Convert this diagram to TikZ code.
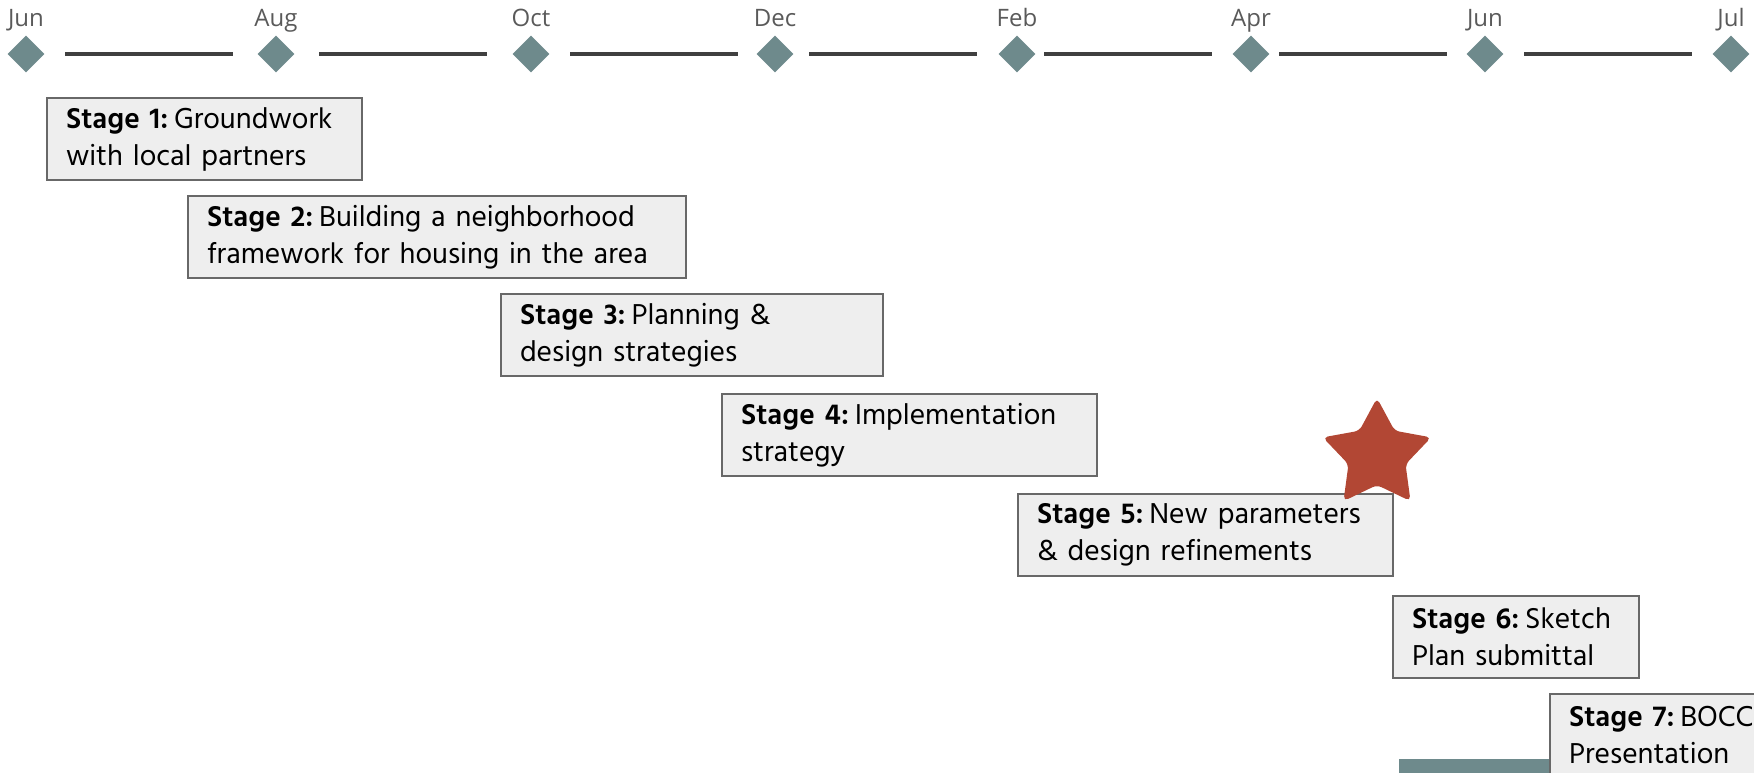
\documentclass[tikz,border=0pt]{standalone}
\usepackage{fontspec}
\usepackage{xcolor}
\usepackage{tikz}
\usetikzlibrary{shapes.geometric}
\setmainfont[WordSpace=0.6]{Hind Siliguri}
\newfontfamily\monthfont{Open Sans}
\definecolor{tealgray}{RGB}{110,138,140}
\definecolor{barline}{RGB}{64,64,64}
\definecolor{boxfill}{RGB}{238,238,238}
\definecolor{boxline}{RGB}{104,104,104}
\definecolor{starred}{RGB}{178,71,52}
\definecolor{monthgray}{RGB}{90,90,90}
\newcommand{\stagetext}[3]{\mbox{\textbf{Stage #1:}\hspace{0.2em}#2}\\\mbox{#3}}
\tikzstyle{month}=[diamond, fill=tealgray, inner sep=0pt, minimum size=37pt]
\tikzstyle{monthlbl}=[font=\monthfont\fontsize{24}{26}\selectfont, text=monthgray,
inner sep=0pt, text height=17pt, text depth=0pt, label distance=9pt]
\tikzstyle{tline}=[draw=barline, line width=3.5pt]
\tikzstyle{stagebox}=[draw=boxline, fill=boxfill, line width=2pt, anchor=north west,
align=left, inner xsep=19pt, inner ysep=0pt, minimum height=82pt,
font=\fontsize{29.5}{37}\selectfont]

\begin{document}
\begin{tikzpicture}[x=1pt,y=-1pt]
\useasboundingbox (0,0) rectangle (1754,773);
\clip (0,0) rectangle (1754,773);
% timeline
\foreach \x in {65,319,570,809,1044,1279,1524}
  \draw[tline] (\x,54) -- ++(168,0);
\foreach \i/\x/\m in {1/26/Jun,2/276/Aug,3/531/Oct,4/775/Dec,5/1017/Feb,6/1251/Apr,7/1485/Jun,8/1731/Jul}
  \node[month, label={[monthlbl]above:\m}] (m\i) at (\x,54) {};
% stages
\node[stagebox, text width=277pt] (s1) at (46,97) {\stagetext{1}{Groundwork}{with local partners}};
\node[stagebox, text width=460pt] (s2) at (187,195) {\stagetext{2}{Building a neighborhood}{framework for housing in the area}};
\node[stagebox, text width=344pt] (s3) at (500,293) {\stagetext{3}{Planning \&}{design strategies}};
\node[stagebox, text width=337pt] (s4) at (721,393) {\stagetext{4}{Implementation}{strategy}};
\node[stagebox, text width=337pt] (s5) at (1017,493) {\stagetext{5}{New parameters}{\& design refinements}};
\node[star, star points=5, star point ratio=1.9, fill=starred, inner sep=0pt,
  minimum size=114pt, rounded corners=5pt] (goal) at (1377,455) {};
\node[stagebox, text width=208pt] (s6) at (1392,595) {\stagetext{6}{Sketch}{Plan submittal}};
\fill[tealgray] (1399,759) rectangle (1754,773);
\node[stagebox, text width=300pt] (s7) at (1549,693) {\stagetext{7}{BOCC}{Presentation}};
\end{tikzpicture}
\end{document}
